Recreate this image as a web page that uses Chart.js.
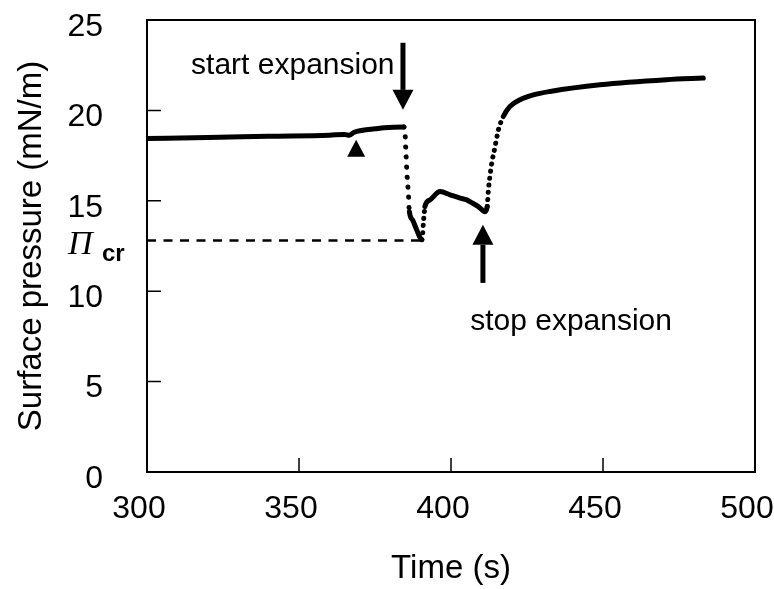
<!DOCTYPE html>
<html>
<head>
<meta charset="utf-8">
<script src="https://cdn.jsdelivr.net/npm/chart.js@4"></script>
<style>
  body { margin: 0; background: #fff; }
  canvas { display: block; }
</style>
</head>
<body>
<canvas id="surfaceChart" width="774" height="589"></canvas>
<script>
// time (s) and surface pressure (mN/m)
const times = [
  300, 320, 340, 360, 365, 366.5, 368, 371, 375, 378, 384.5,
  384.9, 385.0, 385.2, 385.4, 385.6, 385.9, 386.1, 386.2,
  386.3, 387.5, 388.7, 390.4,
  390.7, 390.9, 391.2, 391.4, 393.1, 396.4, 399.7, 403.0, 405.2, 406.8, 409.0, 411.2,
  411.9, 412.3, 412.8, 413.4, 414.5, 415.6, 417.2, 419.4, 422.7, 427.1, 432.6,
  449, 470.9, 483
];
const pressures = [
  18.45, 18.5, 18.57, 18.63, 18.67, 18.62, 18.78, 18.9, 18.98, 19.04, 19.08,
  18.82, 18.26, 17.65, 16.88, 16.27, 15.61, 15.05, 14.61,
  14.4, 13.9, 13.4, 12.85,
  13.2, 13.76, 14.3, 14.68, 15.05, 15.51, 15.33, 15.15, 15.05, 14.9, 14.68, 14.4,
  14.68, 15.6, 16.34, 17.08, 18.0, 18.93, 19.66, 20.22, 20.59, 20.86, 21.05,
  21.42, 21.7, 21.79
];
const xTicks = [300, 350, 400, 450, 500];
const yTicks = [0, 5, 10, 15, 20, 25];

const piCritical = 12.8;
const piCriticalEnd = 390.3;
// arrows: [time, tail value, tip value]
const startArrow = [384.2, 23.74, 20.03];
const stopArrow = [410.5, 10.46, 13.67];
// marker triangle: [time, top value, base value]
const marker = [368.8, 18.37, 17.43];
// text labels: [text, time, value]
const labels = [
  ["start expansion", 314.5, 22.03],
  ["stop expansion", 406.3, 7.86],
];

const sans = "'Liberation Sans', Arial, sans-serif";

const steep = (ctx) => {
  const dx = Math.abs(ctx.p1.x - ctx.p0.x);
  const dy = Math.abs(ctx.p1.y - ctx.p0.y);
  return dy > 2.5 * dx;
};

// keep the plot box fixed, no extra room for overhanging tick labels
const noPadding = (s) => {
  s.paddingTop = 0;
  s.paddingBottom = 0;
  s.paddingLeft = 0;
  s.paddingRight = 0;
};

const decorations = {
  id: "decorations",
  afterDraw(chart) {
    const c = chart.ctx;
    const xs = chart.scales.x;
    const ys = chart.scales.y;
    const area = chart.chartArea;
    c.save();

    // inner tick marks
    c.strokeStyle = "#000";
    c.lineWidth = 1.5;
    c.beginPath();
    yTicks.forEach((v) => {
      const y = ys.getPixelForValue(v);
      c.moveTo(area.left, y);
      c.lineTo(area.left + 14, y);
    });
    xTicks.forEach((v) => {
      const x = xs.getPixelForValue(v);
      c.moveTo(x, area.bottom);
      c.lineTo(x, area.bottom - 14);
    });
    c.stroke();

    // frame
    c.lineWidth = 2;
    c.strokeRect(area.left, area.top, area.right - area.left, area.bottom - area.top);

    // critical pressure dashed line
    const yc = ys.getPixelForValue(piCritical);
    c.lineWidth = 2.5;
    c.setLineDash([9, 7.5]);
    c.beginPath();
    c.moveTo(area.left, yc);
    c.lineTo(xs.getPixelForValue(piCriticalEnd), yc);
    c.stroke();
    c.setLineDash([]);

    // Π cr label
    c.fillStyle = "#000";
    c.textBaseline = "alphabetic";
    c.textAlign = "left";
    c.font = "italic 34px 'Liberation Serif', 'Times New Roman', serif";
    c.fillText("Π", area.left - 79, yc + 13);
    c.font = "bold 24px " + sans;
    c.fillText("cr", area.left - 45, yc + 20);

    // arrows
    function arrow(a) {
      const x = xs.getPixelForValue(a[0]);
      const y0 = ys.getPixelForValue(a[1]);
      const y1 = ys.getPixelForValue(a[2]);
      const dir = y1 > y0 ? 1 : -1;
      const headH = 20;
      c.fillRect(x - 2.5, Math.min(y0, y1 - dir * headH), 5, Math.abs(y1 - dir * headH - y0));
      c.beginPath();
      c.moveTo(x, y1);
      c.lineTo(x - 10.5, y1 - dir * headH);
      c.lineTo(x + 10.5, y1 - dir * headH);
      c.closePath();
      c.fill();
    }
    arrow(startArrow);
    arrow(stopArrow);

    // triangle marker
    const mx = xs.getPixelForValue(marker[0]);
    const mTop = ys.getPixelForValue(marker[1]);
    const mBase = ys.getPixelForValue(marker[2]);
    c.beginPath();
    c.moveTo(mx, mTop);
    c.lineTo(mx - 9, mBase);
    c.lineTo(mx + 9, mBase);
    c.closePath();
    c.fill();

    // text
    c.font = "30px " + sans;
    labels.forEach((l) => {
      c.fillText(l[0], xs.getPixelForValue(l[1]), ys.getPixelForValue(l[2]));
    });
    c.restore();
  },
};

const ctx = document.getElementById("surfaceChart").getContext("2d");
new Chart(ctx, {
  type: "line",
  data: {
    datasets: [
      {
        data: times.map((t, i) => ({ x: t, y: pressures[i] })),
        borderColor: "#000",
        borderWidth: 5,
        borderCapStyle: "round",
        borderJoinStyle: "round",
        pointRadius: 0,
        cubicInterpolationMode: "monotone",
        fill: false,
        segment: {
          borderDash: (ctx) =>
            steep(ctx) ? [0.1, ctx.p1.y > ctx.p0.y ? 10 : 7] : undefined,
        },
      },
    ],
  },
  options: {
    responsive: false,
    animation: false,
    devicePixelRatio: 1,
    layout: { padding: { top: 20, right: 19, left: 0, bottom: 0 } },
    plugins: {
      legend: { display: false },
      tooltip: { enabled: false },
    },
    scales: {
      x: {
        type: "linear",
        min: 300,
        max: 500,
        afterFit: (s) => { s.height = 117; noPadding(s); },
        afterBuildTicks: (s) => { s.ticks = xTicks.map((v) => ({ value: v })); },
        grid: { display: false, drawTicks: false },
        border: { display: false },
        ticks: {
          color: "#000",
          font: { family: sans, size: 32 },
          padding: 18,
          labelOffset: -8,
          maxRotation: 0,
        },
        title: {
          display: true,
          text: "Time (s)",
          color: "#000",
          font: { family: sans, size: 33 },
          padding: { top: 0, bottom: 0 },
        },
      },
      y: {
        min: 0,
        max: 25,
        afterFit: (s) => { s.width = 147; noPadding(s); },
        afterBuildTicks: (s) => { s.ticks = yTicks.map((v) => ({ value: v })); },
        grid: { display: false, drawTicks: false },
        border: { display: false },
        ticks: {
          color: "#000",
          font: { family: sans, size: 32 },
          padding: 44,
          labelOffset: 7,
        },
        title: {
          display: true,
          text: "Surface pressure (mN/m)",
          color: "#000",
          font: { family: sans, size: 33 },
          padding: { top: 12, bottom: 0 },
        },
      },
    },
  },
  plugins: [decorations],
});
</script>
</body>
</html>
